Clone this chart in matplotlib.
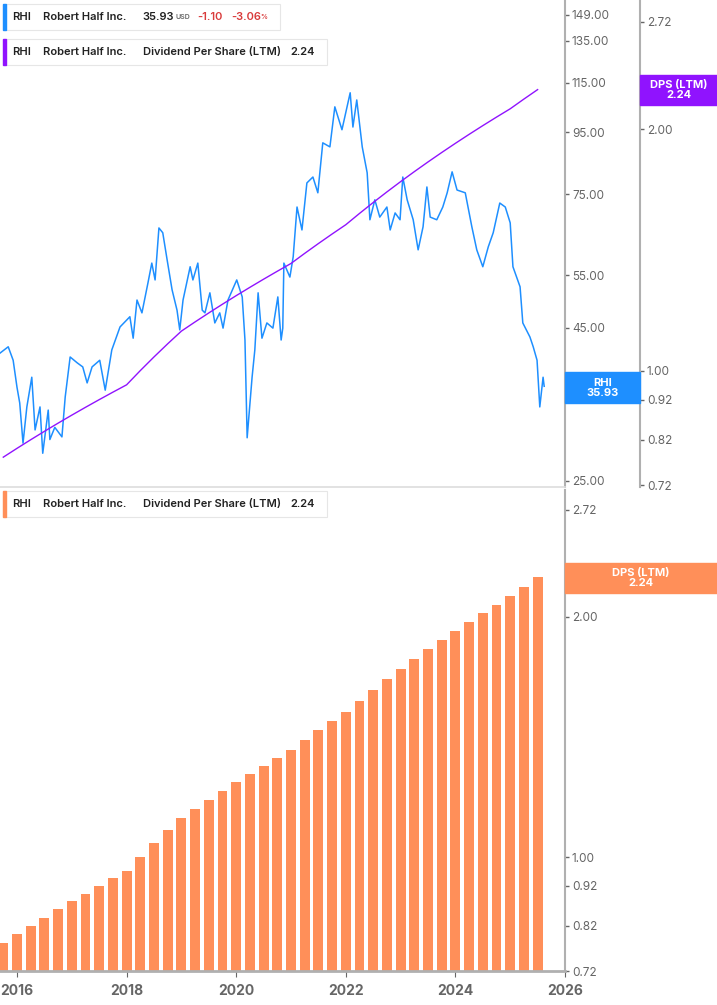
import numpy as np
import matplotlib.pyplot as plt
from matplotlib.patches import Rectangle

plt.rcParams['font.family'] = 'Inter'

# quarterly LTM dividend per share
dps_dates = [2015.75 + 0.25 * i for i in range(40)]
dps_values = [0.78, 0.80, 0.82, 0.84, 0.86, 0.88, 0.90, 0.92, 0.94, 0.96,
              1.00, 1.04, 1.08, 1.12, 1.15, 1.18, 1.21, 1.24, 1.27, 1.30,
              1.33, 1.36, 1.40, 1.44, 1.48, 1.52, 1.57, 1.62, 1.67, 1.72,
              1.77, 1.82, 1.87, 1.92, 1.97, 2.02, 2.07, 2.12, 2.18, 2.24]

# share price
price_dates = [2015.69, 2015.84, 2015.93, 2016.00, 2016.05, 2016.11, 2016.18, 2016.27,
               2016.33, 2016.42, 2016.47, 2016.57, 2016.60, 2016.69, 2016.82, 2016.88,
               2016.97, 2017.10, 2017.20, 2017.28, 2017.37, 2017.51, 2017.61, 2017.73,
               2017.88, 2018.06, 2018.12, 2018.19, 2018.28, 2018.39, 2018.46, 2018.52,
               2018.59, 2018.66, 2018.74, 2018.83, 2018.92, 2018.97, 2019.03, 2019.16,
               2019.21, 2019.30, 2019.38, 2019.43, 2019.52, 2019.61, 2019.70, 2019.76,
               2019.85, 2020.01, 2020.11, 2020.16, 2020.20, 2020.29, 2020.34, 2020.40,
               2020.47, 2020.56, 2020.67, 2020.76, 2020.82, 2020.85, 2020.87, 2020.98,
               2021.04, 2021.11, 2021.20, 2021.29, 2021.40, 2021.49, 2021.58, 2021.71,
               2021.80, 2021.93, 2022.08, 2022.13, 2022.20, 2022.30, 2022.39, 2022.44,
               2022.53, 2022.62, 2022.75, 2022.81, 2022.90, 2022.99, 2023.04, 2023.12,
               2023.23, 2023.32, 2023.41, 2023.48, 2023.54, 2023.66, 2023.77, 2023.85,
               2023.94, 2024.03, 2024.18, 2024.30, 2024.39, 2024.50, 2024.60, 2024.69,
               2024.81, 2024.91, 2025.00, 2025.05, 2025.18, 2025.23, 2025.36, 2025.42,
               2025.49, 2025.54, 2025.60, 2025.62]
price_values = [40.8, 41.8, 39.7, 35.8, 33.7, 28.9, 33.2, 37.2,
                30.4, 33.2, 27.8, 32.8, 29.3, 30.7, 29.6, 34.5,
                40.2, 39.3, 38.7, 36.4, 38.7, 39.7, 35.4, 41.3,
                45.1, 46.9, 43.2, 50.0, 47.6, 53.4, 57.6, 54.0,
                65.9, 64.7, 58.3, 52.0, 48.1, 44.6, 50.0, 56.8,
                54.0, 57.6, 48.1, 47.6, 51.4, 45.8, 47.6, 44.9,
                50.0, 54.0, 50.6, 42.9, 29.5, 37.2, 41.3, 51.4,
                43.2, 45.8, 44.9, 50.6, 42.9, 44.9, 57.6, 54.6,
                59.0, 71.4, 65.4, 78.3, 80.1, 75.4, 91.3, 89.9,
                104.8, 96.0, 110.6, 97.0, 107.6, 89.9, 81.4, 68.0,
                73.4, 68.7, 71.4, 65.4, 69.8, 68.0, 80.1, 73.4,
                68.0, 60.6, 66.2, 77.1, 68.7, 68.0, 71.4, 75.4,
                81.7, 76.2, 75.4, 66.2, 60.6, 56.8, 61.3, 64.7,
                72.5, 71.4, 67.2, 56.8, 52.6, 45.8, 43.4, 41.8,
                39.7, 33.2, 37.2, 35.93]

price_ticks = [25, 45, 55, 75, 95, 115, 135, 149]
dps_ticks = [0.72, 0.82, 0.92, 1.00, 2.00, 2.72]
years = list(range(2016, 2027, 2))

BLUE = '#1E8FFF'
PURPLE = '#9013FE'
ORANGE = '#FF8F59'
GREY = '#666666'
AXIS = '#b0b0b0'
DARK = '#222222'
RED = '#d93b3b'

W, H = 717, 1005
fig = plt.figure(figsize=(W / 100, H / 100), dpi=100)

def rect(x0, y0, x1, y1):
    return [x0 / W, 1 - y1 / H, (x1 - x0) / W, (y1 - y0) / H]

def style(ax):
    for s in ['top', 'left', 'bottom']:
        ax.spines[s].set_visible(False)
    ax.spines['right'].set_visible(True)
    ax.spines['right'].set_color(AXIS)
    ax.spines['right'].set_linewidth(1.5)
    ax.yaxis.set_minor_locator(plt.NullLocator())
    ax.tick_params(axis='y', which='both', left=False, labelleft=False,
                   right=True, labelright=True, length=3, width=1, color=GREY,
                   labelcolor=GREY, labelsize=8.5, pad=2)

# ---- top panel ----
ax1 = fig.add_axes(rect(0, 0, 565, 487))
ax1.plot(price_dates, price_values, color=BLUE, lw=1.1)
ax1.set_yscale('log')
ax1.set_ylim(24.43, 157.8)
ax1.set_xlim(2015.69, 2026.0)
ax1.set_xticks([])

ax1b = ax1.twinx()
ax1b.plot(dps_dates, dps_values, color=PURPLE, lw=1.0)
ax1b.set_yscale('log')
ax1b.set_ylim(0.716, 2.897)
ax1b.spines['right'].set_position(('axes', 640 / 565))
ax1b.set_yticks(dps_ticks)
ax1b.set_yticklabels([f'{t:.2f}' for t in dps_ticks])
style(ax1b)

ax1.set_yticks(price_ticks)
ax1.set_yticklabels([f'{t:.2f}' for t in price_ticks])
style(ax1)

fig.add_artist(plt.Line2D([0, 565 / W], [1 - 487 / H] * 2, color='#dddddd', lw=1.2))

# ---- bottom panel ----
ax2 = fig.add_axes(rect(0, 490, 565, 971))
ax2.bar(dps_dates, [v - 0.72 for v in dps_values], bottom=0.72, width=0.18, color=ORANGE)
ax2.set_yscale('log')
ax2.set_ylim(0.72, 2.88)
ax2.set_xlim(2015.69, 2026.0)
ax2.set_yticks(dps_ticks)
ax2.set_yticklabels([f'{t:.2f}' for t in dps_ticks])
style(ax2)
ax2.spines['bottom'].set_visible(True)
ax2.spines['bottom'].set_color(AXIS)
ax2.spines['bottom'].set_linewidth(2)
ax2.set_xticks(years)
ax2.set_xticklabels([str(y) for y in years], fontweight='bold')
ax2.tick_params(axis='x', length=4, color=GREY, labelcolor=GREY, labelsize=10, pad=5)

# ---- value tags on the axes ----
def tag(x0, y0, x1, y1, color, text):
    fig.add_artist(Rectangle((x0 / W, 1 - y1 / H), (x1 - x0) / W, (y1 - y0) / H,
                             transform=fig.transFigure, color=color, zorder=5))
    fig.text((x0 + x1) / 2 / W, 1 - (y0 + y1) / 2 / H, text, color='white',
             ha='center', va='center', fontsize=8, fontweight='bold',
             linespacing=1.0, zorder=6)

tag(565, 372, 640, 403, BLUE, 'RHI\n35.93')
tag(640, 75, 717, 105, PURPLE, 'DPS (LTM)\n2.24')
tag(565, 563, 717, 593, ORANGE, 'DPS (LTM)\n2.24')

# ---- legend boxes ----
def legend_box(y0, y1, x1, color, parts):
    fig.add_artist(Rectangle((3 / W, 1 - y1 / H), (x1 - 3) / W, (y1 - y0) / H,
                             transform=fig.transFigure, facecolor='white',
                             edgecolor='#e6e6e6', lw=0.8, zorder=5))
    fig.add_artist(Rectangle((3 / W, 1 - y1 / H), 3 / W, (y1 - y0) / H,
                             transform=fig.transFigure, color=color, zorder=6))
    yc = 1 - (y0 + y1) / 2 / H
    for x, txt, col, size in parts:
        fig.text(x / W, yc, txt, color=col, fontsize=size, fontweight='semibold',
                 va='center', ha='left', zorder=7)

legend_box(4, 30, 280, BLUE, [(12, 'RHI', DARK, 8), (43, 'Robert Half Inc.', DARK, 8),
                              (142, '35.93', DARK, 8), (175, 'USD', GREY, 5),
                              (197, '-1.10', RED, 8), (231, '-3.06', RED, 8),
                              (260, '%', RED, 5)])
dps_parts = [(12, 'RHI', DARK, 8), (43, 'Robert Half Inc.', DARK, 8),
             (143, 'Dividend Per Share (LTM)', DARK, 8), (290, '2.24', DARK, 8)]
legend_box(39, 65, 327, PURPLE, dps_parts)
legend_box(491, 517, 327, ORANGE, dps_parts)

fig.savefig('out.png', dpi=100)
